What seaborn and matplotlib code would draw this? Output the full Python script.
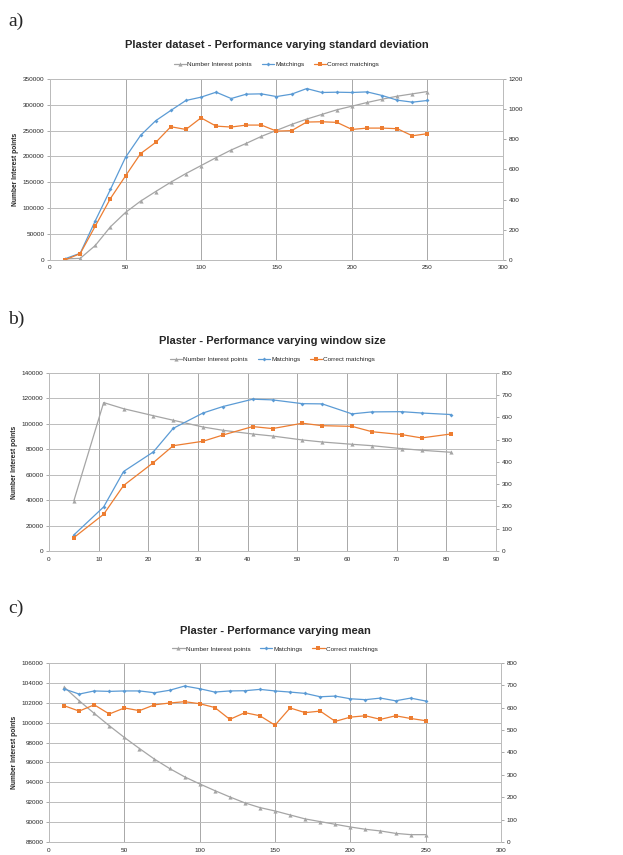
import seaborn as sns
import pandas as pd
import matplotlib
matplotlib.use("Agg")
import matplotlib.pyplot as plt

# panel a - standard deviation
std_x = [10, 20, 30, 40, 50, 60, 70, 80, 90, 100, 110, 120, 130, 140, 150,
         160, 170, 180, 190, 200, 210, 220, 230, 240, 250]
std_points = [2000, 3000, 28000, 64000, 91800, 113700, 132300, 150300, 167000,
              182400, 197800, 212600, 225400, 238900, 250500, 262000, 272300,
              281300, 290300, 297300, 304400, 310800, 316600, 321100, 325600]
std_match = [8, 44, 260, 467, 680, 826, 923, 991, 1057, 1079, 1112, 1070, 1099,
             1101, 1083, 1099, 1136, 1110, 1112, 1110, 1114, 1090, 1059, 1046, 1057]
std_correct = [0, 42, 225, 407, 557, 705, 779, 883, 865, 942, 887, 881, 894,
               894, 854, 857, 914, 916, 912, 865, 874, 874, 870, 823, 837]

# panel b - window size
win_x = [5, 11, 15, 21, 25, 31, 35, 41, 45, 51, 55, 61, 65, 71, 75, 81]
win_points = [39500, 116700, 111900, 106400, 102800, 97500, 94900, 92000, 90400,
              87300, 85700, 83900, 82800, 80500, 79200, 77600]
win_match = [72, 198, 357, 445, 551, 620, 649, 682, 679, 662, 661, 616, 625,
             626, 620, 613]
win_correct = [60, 165, 294, 397, 473, 493, 521, 559, 550, 574, 563, 560, 536,
               523, 508, 526]

# panel c - mean
mean_x = std_x
mean_points = [103580, 102200, 100930, 99690, 98510, 97400, 96330, 95390, 94550,
               93840, 93170, 92530, 91930, 91460, 91120, 90720, 90320, 90050,
               89780, 89510, 89280, 89110, 88870, 88740, 88740]
mean_match = [684, 661, 675, 673, 675, 675, 667, 678, 697, 685, 670, 675, 676,
              682, 675, 670, 664, 649, 652, 640, 636, 643, 631, 643, 630]
mean_correct = [609, 585, 613, 572, 599, 587, 613, 621, 627, 618, 601, 548, 578,
                564, 522, 599, 578, 585, 539, 558, 564, 548, 564, 552, 542]

GRAY = "#a5a5a5"
BLUE = "#5b9bd5"
ORANGE = "#ed7d31"
GRID = "#bcbcbc"

sns.set_theme(style="white")
plt.rcParams['font.family'] = ['Liberation Sans', 'DejaVu Sans']


def draw_panel(fig, rect, letter, letter_y, title, title_y, legend_y,
               x, pts, match, corr, xlim, xticks, ylim, yticks, y2lim, y2ticks):
    df = pd.DataFrame({"x": x, "points": pts, "match": match, "correct": corr})
    ax = fig.add_axes(rect)
    ax2 = ax.twinx()
    sns.lineplot(x="x", y="points", data=df, ax=ax, color=GRAY, marker="^",
                 markersize=3, markeredgewidth=0, linewidth=0.9)
    h1 = ax.lines[-1]
    sns.lineplot(x="x", y="match", data=df, ax=ax2, color=BLUE, marker="D",
                 markersize=2, markeredgewidth=0, linewidth=0.9)
    h2 = ax2.lines[-1]
    sns.lineplot(x="x", y="correct", data=df, ax=ax2, color=ORANGE, marker="s",
                 markersize=3, markeredgewidth=0, linewidth=0.9)
    h3 = ax2.lines[-1]

    ax.set_xlim(*xlim)
    ax.set_xticks(xticks)
    ax.set_ylim(*ylim)
    ax.set_yticks(yticks)
    ax2.set_ylim(*y2lim)
    ax2.set_yticks(y2ticks)
    ax.set_xlabel("")
    ax2.set_ylabel("")
    ax.set_ylabel("Number Interest points", fontsize=4.8, fontweight="bold", labelpad=3)
    ax.grid(True, axis="y", color=GRID, linewidth=0.7)
    ax.grid(True, axis="x", color="#a8a8a8", linewidth=0.7)
    ax.set_axisbelow(True)
    for a in (ax, ax2):
        for s in a.spines.values():
            s.set_color(GRID)
            s.set_linewidth(0.7)
        a.tick_params(labelsize=4.6, length=2, width=0.5, color="#888888", pad=2)

    fig.text(0.013, letter_y, letter, fontsize=14, family="Liberation Serif",
             va="center", ha="left")
    mid = rect[0] + rect[2] / 2
    fig.text(mid, title_y, title, fontsize=8, fontweight="bold",
             ha="center", va="center")
    fig.legend([h1, h2, h3], ["Number Interest points", "Matchings", "Correct matchings"],
               loc="center", bbox_to_anchor=(mid, legend_y), ncol=3, frameon=False,
               fontsize=4.6, handlelength=1.9, columnspacing=1.5, handletextpad=0.2)


fig = plt.figure(figsize=(6.23, 8.55), dpi=100)

draw_panel(fig, [0.0803, 0.696, 0.727, 0.2117], "a)", 0.975,
           "Plaster dataset - Performance varying standard deviation", 0.947, 0.925,
           std_x, std_points, std_match, std_correct,
           (0, 300), range(0, 301, 50), (0, 350000), range(0, 350001, 50000),
           (0, 1200), range(0, 1201, 200))

draw_panel(fig, [0.0787, 0.3556, 0.7175, 0.2082], "b)", 0.626,
           "Plaster - Performance varying window size", 0.601, 0.580,
           win_x, win_points, win_match, win_correct,
           (0, 90), range(0, 91, 10), (0, 140000), range(0, 140001, 20000),
           (0, 800), range(0, 801, 100))

draw_panel(fig, [0.0787, 0.0152, 0.7255, 0.2094], "c)", 0.288,
           "Plaster - Performance varying mean", 0.262, 0.241,
           mean_x, mean_points, mean_match, mean_correct,
           (0, 300), range(0, 301, 50), (88000, 106000), range(88000, 106001, 2000),
           (0, 800), range(0, 801, 100))

fig.savefig("out.png", dpi=100)
